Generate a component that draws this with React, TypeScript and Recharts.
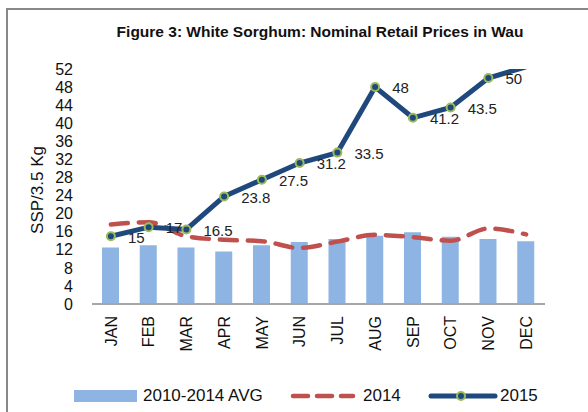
import React from 'react';
import { ComposedChart, Bar, Line, XAxis, YAxis, Legend, LabelList } from 'recharts';

const months = ['JAN', 'FEB', 'MAR', 'APR', 'MAY', 'JUN', 'JUL', 'AUG', 'SEP', 'OCT', 'NOV', 'DEC'];
const avg2010to2014 = [12.5, 13.0, 12.5, 11.6, 13.0, 13.7, 14.4, 15.1, 15.9, 14.9, 14.4, 13.9];
const prices2014 = [17.6, 18.1, 15.0, 14.2, 13.9, 12.4, 13.8, 15.3, 14.8, 14.0, 16.7, 15.4];
const prices2015 = [15, 17, 16.5, 23.8, 27.5, 31.2, 33.5, 48, 41.2, 43.5, 50, 52.5];
const yTicks = [0, 4, 8, 12, 16, 20, 24, 28, 32, 36, 40, 44, 48, 52];
const Y_MAX = 52;

const FONT = '"Liberation Sans", Arial, sans-serif';
const BAR_COLOR = '#8DB4E2';
const RED = '#C0504D';
const BLUE = '#1F497D';
const GREEN = '#9BBB59';

const data = months.map((m, i) => ({
  month: m,
  avg: avg2010to2014[i],
  y2014: prices2014[i],
  y2015: prices2015[i],
}));

const MonthTick = (props: any) => {
  const { x, y, payload } = props;
  return (
    <text
      x={x}
      y={y}
      transform={`rotate(-90 ${x} ${y})`}
      textAnchor="end"
      dy="0.355em"
      fontSize={16}
      fontFamily={FONT}
      fill="#111"
    >
      {payload.value}
    </text>
  );
};

const Marker = (props: any) => {
  const { cx, cy, value, index } = props;
  if (value > Y_MAX) return <g key={index} />;
  return <circle key={index} cx={cx} cy={cy} r={4} fill={BLUE} stroke={GREEN} strokeWidth={2} />;
};

const PriceLabel = (props: any) => {
  const { x, y, value } = props;
  if (value > Y_MAX) return null;
  return (
    <text x={x + 17} y={y + 1} dy="0.355em" fontSize={15} fontFamily={FONT} fill="#222">
      {value}
    </text>
  );
};

const AxisTitle = (props: any) => {
  const { viewBox } = props;
  const cx = viewBox.x + 37;
  const cy = 190;
  return (
    <text
      x={cx}
      y={cy}
      transform={`rotate(-90 ${cx} ${cy})`}
      textAnchor="middle"
      dy="0.355em"
      fontSize={17}
      fontFamily={FONT}
      fill="#111"
    >
      SSP/3.5 Kg
    </text>
  );
};

const legendText: React.CSSProperties = {
  position: 'absolute',
  top: 10,
  fontSize: 17,
  lineHeight: '20px',
  fontFamily: FONT,
  color: '#111',
};

const ChartLegend = () => (
  <div style={{ position: 'relative', width: 588, height: 36 }}>
    <div style={{ position: 'absolute', left: 74, top: 14, width: 63, height: 12, background: BAR_COLOR }} />
    <span style={{ ...legendText, left: 143 }}>2010-2014 AVG</span>
    <svg style={{ position: 'absolute', left: 288, top: 10 }} width={70} height={20}>
      <line x1={5} y1={10} x2={65} y2={10} stroke={RED} strokeWidth={4.5} strokeLinecap="round" strokeDasharray="15 9" />
    </svg>
    <span style={{ ...legendText, left: 363 }}>2014</span>
    <svg style={{ position: 'absolute', left: 428, top: 10 }} width={70} height={20}>
      <line x1={3} y1={10} x2={67} y2={10} stroke={BLUE} strokeWidth={5} strokeLinecap="round" />
      <circle cx={33} cy={10} r={4} fill={BLUE} stroke={GREEN} strokeWidth={2} />
    </svg>
    <span style={{ ...legendText, left: 500 }}>2015</span>
  </div>
);

export default function App() {
  return (
    <div style={{ position: 'absolute', left: 0, top: 0, width: 588, height: 412, background: '#fff' }}>
      <div
        style={{
          position: 'absolute',
          left: 6,
          top: 8,
          width: 582,
          height: 404,
          borderLeft: '2px solid #888',
          borderTop: '2px solid #888',
        }}
      />
      <div
        style={{
          position: 'absolute',
          left: 0,
          top: 23,
          width: 640,
          textAlign: 'center',
          fontFamily: FONT,
          fontWeight: 'bold',
          fontSize: 15.5,
          color: '#111',
        }}
      >
        Figure 3: White Sorghum: Nominal Retail Prices in Wau
      </div>
      <ComposedChart width={588} height={412} data={data} margin={{ top: 69, right: 43, left: 0, bottom: 0 }}>
        <XAxis
          dataKey="month"
          axisLine={{ stroke: '#A6A6A6', strokeWidth: 2 }}
          tickLine={false}
          tick={<MonthTick />}
          tickMargin={6}
          height={72}
          interval={0}
        />
        <YAxis
          domain={[0, Y_MAX]}
          ticks={yTicks}
          allowDataOverflow
          axisLine={false}
          tickLine={false}
          tickMargin={13}
          width={92}
          interval={0}
          tick={{ fontSize: 16, fontFamily: FONT, fill: '#111' }}
          label={<AxisTitle />}
        />
        <Legend verticalAlign="bottom" height={36} content={<ChartLegend />} />
        <Bar dataKey="avg" fill={BAR_COLOR} barSize={17} isAnimationActive={false} />
        <Line
          type="monotone"
          dataKey="y2014"
          stroke={RED}
          strokeWidth={4.5}
          strokeDasharray="17 11"
          strokeLinecap="round"
          dot={false}
          isAnimationActive={false}
        />
        <Line
          type="linear"
          dataKey="y2015"
          stroke={BLUE}
          strokeWidth={5}
          dot={<Marker />}
          activeDot={false}
          isAnimationActive={false}
        >
          <LabelList dataKey="y2015" content={<PriceLabel />} />
        </Line>
      </ComposedChart>
    </div>
  );
}
